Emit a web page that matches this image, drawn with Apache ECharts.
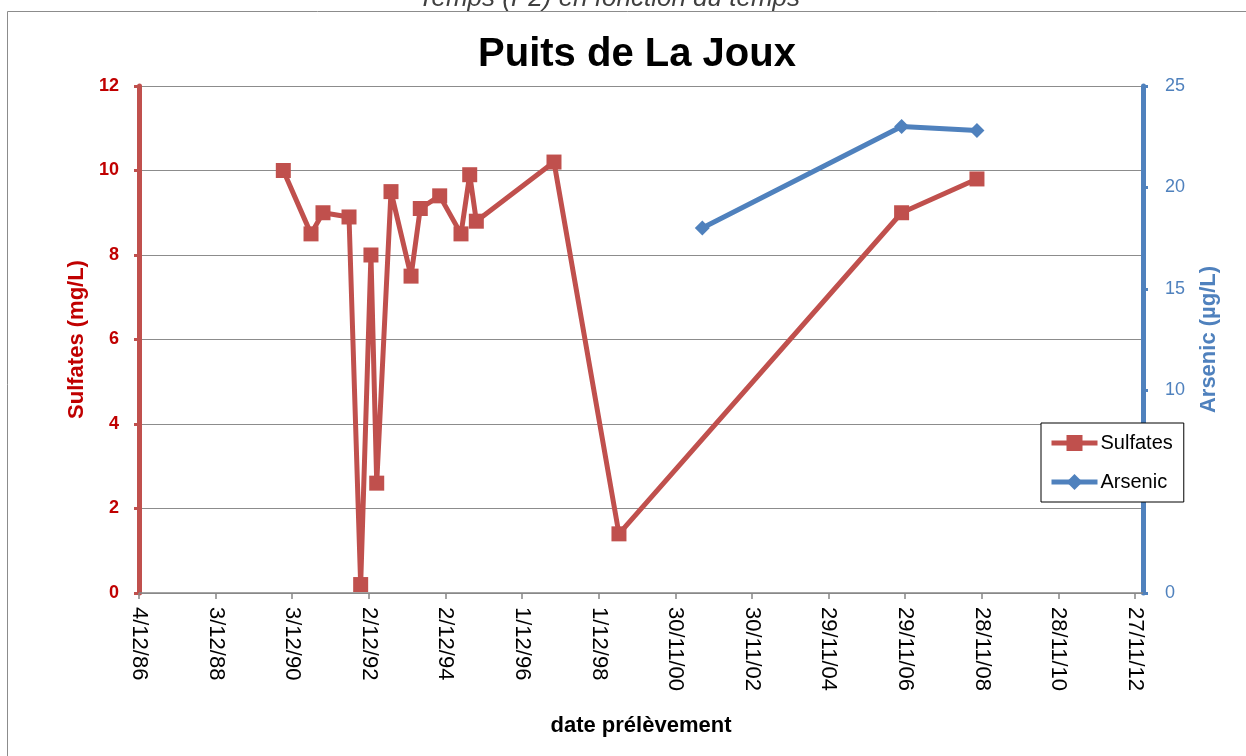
<!DOCTYPE html>
<html>
<head>
<meta charset="utf-8">
<title>Puits de La Joux</title>
<script src="https://cdn.jsdelivr.net/npm/echarts@6/dist/echarts.min.js"></script>
<style>
  html, body { margin: 0; padding: 0; background: #fff; }
  #chart { width: 1246px; height: 756px; }
</style>
</head>
<body>
<div id="chart"></div>
<script>
// données
const sulfateDates = ['1990-09-09', '1991-05-31', '1991-09-22', '1992-05-27', '1992-09-15',
    '1992-12-22', '1993-02-15', '1993-07-01', '1994-01-08', '1994-04-06', '1994-10-08',
    '1995-04-29', '1995-07-21', '1995-09-22', '1997-10-01', '1999-06-12', '2006-10-26', '2008-10-13'];
const sulfateValues = [10, 8.5, 9, 8.9, 0.2, 8, 2.6, 9.5, 7.5, 9.1, 9.4, 8.5, 9.9, 8.8, 10.2, 1.4, 9, 9.8];

const arsenicDates = ['2001-08-14', '2006-10-26', '2008-10-13'];
const arsenicValues = [18, 23, 22.8];

// axe des dates : début, pas (2 ans) et fin
const axisStartDate = '1986-12-04';
const axisStepDays = 730;
const axisEndDays = 9566;

const DAY = 86400000;
const startMs = Date.parse(axisStartDate);

function toDays(d) {
    return Math.round((Date.parse(d) - startMs) / DAY);
}

function formatDate(days) {
    const d = new Date(startMs + days * DAY);
    const yy = String(d.getUTCFullYear() % 100).padStart(2, '0');
    return d.getUTCDate() + '/' + (d.getUTCMonth() + 1) + '/' + yy;
}

const sulfateData = sulfateDates.map((d, i) => [toDays(d), sulfateValues[i]]);
const arsenicData = arsenicDates.map((d, i) => [toDays(d), arsenicValues[i]]);

const RED = '#C0504D';
const RED_TEXT = '#C00000';
const BLUE = '#4F81BD';
const FONT = "'Liberation Sans', Arial, sans-serif";

const chart = echarts.init(document.getElementById('chart'));

chart.setOption({
    animation: false,
    backgroundColor: '#fff',
    textStyle: { fontFamily: FONT },
    title: {
        text: 'Puits de La Joux',
        left: 632,
        top: 30,
        textAlign: 'center',
        textStyle: { fontFamily: FONT, fontSize: 40, fontWeight: 'bold', color: '#000' }
    },
    graphic: [
        {
            type: 'rect',
            shape: { x: 7.5, y: 11.5, width: 1300, height: 800 },
            style: { fill: null, stroke: '#8c8c8c', lineWidth: 1 },
            silent: true
        },
        {
            // titre de la page, coupé en haut
            type: 'text',
            x: 609,
            y: -1,
            style: {
                text: 'Temps (P2) en fonction du temps',
                align: 'center',
                verticalAlign: 'middle',
                fontFamily: FONT,
                fontStyle: 'italic',
                fontSize: 26,
                fill: '#404040'
            },
            silent: true
        }
    ],
    legend: {
        orient: 'vertical',
        left: 1041,
        top: 423,
        padding: [10, 11, 10, 8],
        itemWidth: 46,
        itemHeight: 20,
        itemGap: 19,
        backgroundColor: '#fff',
        borderColor: '#000',
        borderWidth: 1,
        borderRadius: 0,
        lineStyle: { width: 5 },
        textStyle: { fontFamily: FONT, fontSize: 20, color: '#000', padding: [0, 0, 0, -2] },
        data: ['Sulfates', 'Arsenic']
    },
    grid: { left: 139, right: 103, top: 86, bottom: 163, containLabel: false },
    xAxis: {
        type: 'value',
        min: 0,
        max: axisEndDays,
        interval: axisStepDays,
        name: 'date prélèvement',
        nameLocation: 'middle',
        nameGap: 122,
        nameTextStyle: { fontFamily: FONT, fontSize: 22, fontWeight: 'bold', color: '#000' },
        axisLine: { onZero: false, lineStyle: { color: '#868686', width: 1.5 } },
        axisTick: { show: true, inside: false, length: 6, lineStyle: { color: '#868686', width: 1.5 } },
        axisLabel: {
            rotate: -90,
            margin: 14,
            fontFamily: FONT,
            fontSize: 22,
            color: '#000',
            showMaxLabel: false,
            formatter: function (v) {
                return v % axisStepDays === 0 ? formatDate(v) : '';
            }
        },
        splitLine: { show: false }
    },
    yAxis: [
        {
            type: 'value',
            min: 0,
            max: 12,
            interval: 2,
            position: 'left',
            name: 'Sulfates (mg/L)',
            nameLocation: 'middle',
            nameGap: 50,
            nameTextStyle: { fontFamily: FONT, fontSize: 22, fontWeight: 'bold', color: RED_TEXT },
            axisLine: { show: true, lineStyle: { color: RED, width: 5 } },
            axisTick: { show: true, inside: false, length: 5, lineStyle: { color: RED, width: 3 } },
            axisLabel: { margin: 20, fontFamily: FONT, fontSize: 18, fontWeight: 'bold', color: RED_TEXT },
            splitLine: { show: true, lineStyle: { color: '#8c8c8c', width: 1 } }
        },
        {
            type: 'value',
            min: 0,
            max: 25,
            interval: 5,
            position: 'right',
            name: 'Arsenic (µg/L)',
            nameLocation: 'middle',
            nameGap: 55,
            nameRotate: 90,
            nameTextStyle: { fontFamily: FONT, fontSize: 22, fontWeight: 'bold', color: BLUE },
            axisLine: { show: true, lineStyle: { color: BLUE, width: 5 } },
            axisTick: { show: true, inside: false, length: 5, lineStyle: { color: BLUE, width: 3 } },
            axisLabel: { margin: 22, fontFamily: FONT, fontSize: 18, color: BLUE },
            splitLine: { show: false }
        }
    ],
    series: [
        {
            name: 'Sulfates',
            type: 'line',
            yAxisIndex: 0,
            data: sulfateData,
            symbol: 'rect',
            symbolSize: 15,
            lineStyle: { color: RED, width: 5 },
            itemStyle: { color: RED, borderWidth: 0 },
            z: 3
        },
        {
            name: 'Arsenic',
            type: 'line',
            yAxisIndex: 1,
            data: arsenicData,
            symbol: 'diamond',
            symbolSize: 15,
            lineStyle: { color: BLUE, width: 5 },
            itemStyle: { color: BLUE, borderWidth: 0 },
            z: 3
        }
    ]
});
</script>
</body>
</html>
